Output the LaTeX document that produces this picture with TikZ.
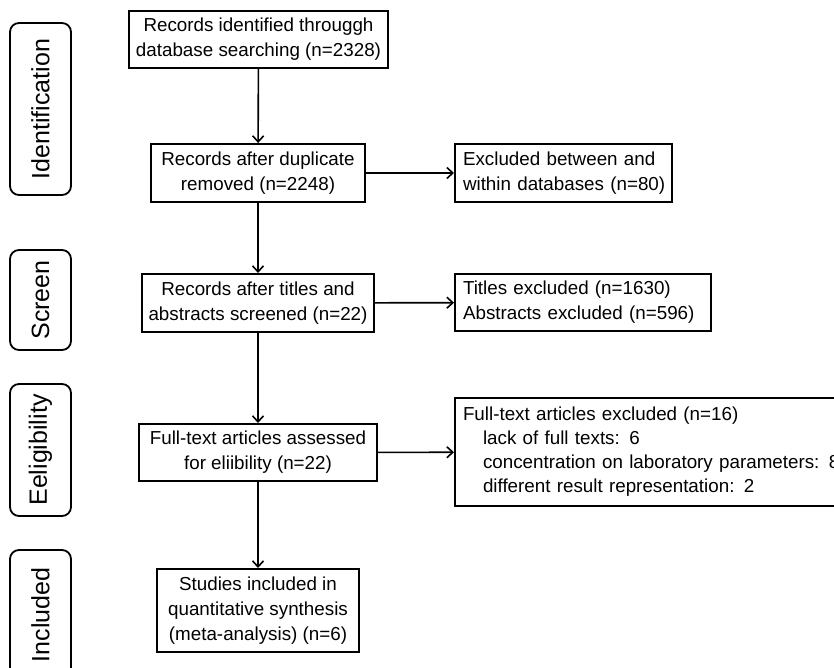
\documentclass[tikz,border=0pt]{standalone}
\usepackage{fontspec}
\setmainfont{Liberation Sans}
\usetikzlibrary{arrows.meta}
\begin{document}
\begin{tikzpicture}[x=1pt,y=-1pt,
  every node/.style={font=\fontsize{18.8}{25}\selectfont, text=black},
  box/.style={draw, line width=2pt, inner sep=0pt, align=center},
  lbox/.style={draw, line width=2pt, inner xsep=8pt, inner ysep=0pt, align=left},
  side/.style={draw, line width=1.8pt, rounded corners=9pt, rotate=90, inner sep=0pt,
    minimum height=61pt, font=\fontsize{25}{30}\selectfont},
  arr/.style={-{Straight Barb[length=6pt,width=11pt]}, line width=1.6pt}
]
\useasboundingbox (0,0) rectangle (834,668);
\clip (0,0) rectangle (834,668);

% phase labels
\node[side, minimum width=172pt] (sid) at (40.5,109) {Identification};
\node[side, minimum width=100pt] (sscr) at (40.5,300) {Screen};
\node[side, minimum width=132pt] (selig) at (40.5,450) {Eeligibility};
\node[side, minimum width=130pt] (sinc) at (40.5,615) {Included};

% main column
\node[box, minimum width=259pt, minimum height=57pt] (b1) at (258.5,39.5)
  {Records identified througgh\\database searching (n=2328)};
\node[box, minimum width=214pt, minimum height=58pt] (b2) at (258,173)
  {Records after duplicate\\removed (n=2248)};
\node[box, minimum width=232pt, minimum height=58pt] (b3) at (258,303)
  {Records after titles and\\abstracts screened (n=22)};
\node[box, minimum width=238pt, minimum height=57pt] (b4) at (258,452.5)
  {Full-text articles assessed\\for eliibility (n=22)};
\node[box, minimum width=202pt, minimum height=83pt] (b5) at (258,610.5)
  {Studies included in\\quantitative synthesis\\(meta-analysis) (n=6)};

% exclusion boxes
\node[lbox, text width=201pt, minimum height=58pt] (r1) at (563.5,173)
  {\mbox{Excluded between and}\\\mbox{within databases (n=80)}};
\node[lbox, text width=240pt, minimum height=57pt] (r2) at (583,302.5)
  {\mbox{Titles excluded (n=1630)}\\\mbox{Abstracts excluded (n=596)}};
\node[lbox, text width=429pt, minimum height=108pt,
  font=\fontsize{18.8}{24}\selectfont] (r3) at (677.5,452)
  {Full-text articles excluded (n=16)\\
   \hspace*{20pt}lack of full texts: 6\\
   \hspace*{20pt}concentration on laboratory parameters: 8\\
   \hspace*{20pt}different result representation: 2};

% connectors
\draw[arr] (b1) -- (b2);
\draw[arr] (b2) -- (b3);
\draw[arr] (b3) -- (b4);
\draw[arr] (b4) -- (b5);
\draw[arr] (b2) -- (r1);
\draw[arr] (b3) -- (r2);
\draw[arr] (b4) -- (r3);
\end{tikzpicture}
\end{document}
